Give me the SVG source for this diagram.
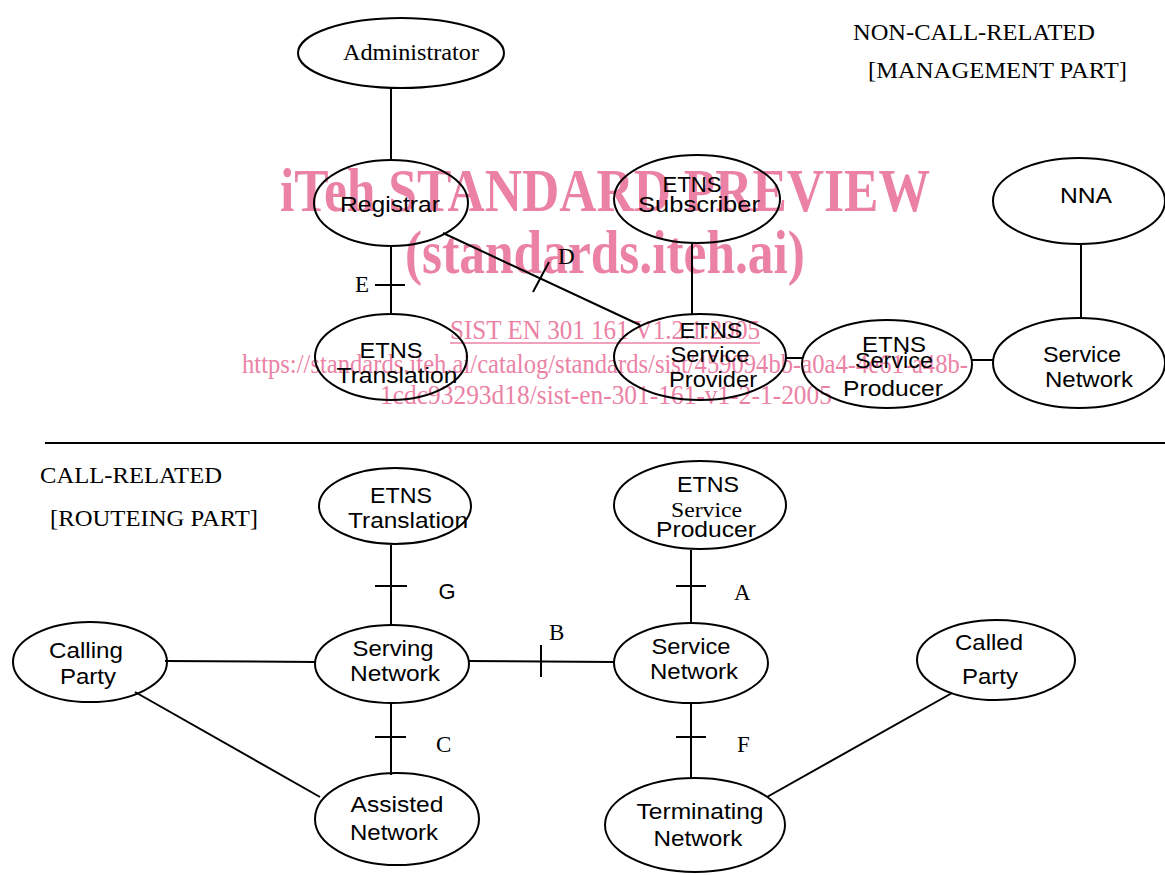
<svg xmlns="http://www.w3.org/2000/svg" width="1165" height="875" viewBox="0 0 1165 875">
<style>
  .node ellipse { fill: none; stroke: #000; stroke-width: 2; }
  .lbl { font-family: "Liberation Sans", Arial, sans-serif; font-size: 22px; fill: #000; text-anchor: middle; }
  .ser { font-family: "Liberation Serif", "Times New Roman", serif; font-size: 23px; fill: #000; }
  .conn line { stroke: #000; stroke-width: 2; }
  .wm { font-family: "Liberation Serif", "Times New Roman", serif; fill: #eb82a6; }
  .wmb { font-weight: bold; font-size: 62px; }
  .wms { font-size: 27px; }
</style>
<rect width="1165" height="875" fill="#fff"/>

<!-- watermark -->
<g id="watermark">
  <text class="wm wmb" x="280" y="211" textLength="650" lengthAdjust="spacingAndGlyphs">iTeh STANDARD PREVIEW</text>
  <text class="wm wmb" x="405" y="273" textLength="400" lengthAdjust="spacingAndGlyphs">(standards.iteh.ai)</text>
  <text class="wm wms" x="450" y="339" textLength="310" lengthAdjust="spacingAndGlyphs">SIST EN 301 161 V1.2.1:2005</text>
  <line x1="450" y1="343" x2="760" y2="343" stroke="#eb82a6" stroke-width="1.5"/>
  <text class="wm wms" x="242" y="373" textLength="726" lengthAdjust="spacingAndGlyphs">https://standards.iteh.ai/catalog/standards/sist/459094bb-a0a4-4e61-a48b-</text>
  <text class="wm wms" x="380" y="404" textLength="452" lengthAdjust="spacingAndGlyphs">1cdc93293d18/sist-en-301-161-v1-2-1-2005</text>
</g>

<!-- section titles -->
<g id="titles">
  <text class="ser" x="853" y="40" textLength="242" lengthAdjust="spacingAndGlyphs">NON-CALL-RELATED</text>
  <text class="ser" x="868" y="78" textLength="259" lengthAdjust="spacingAndGlyphs">[MANAGEMENT PART]</text>
  <text class="ser" x="40" y="483" textLength="182" lengthAdjust="spacingAndGlyphs">CALL-RELATED</text>
  <text class="ser" x="50" y="526" textLength="208" lengthAdjust="spacingAndGlyphs">[ROUTEING PART]</text>
</g>

<!-- connectors -->
<g id="connectors" class="conn">
  <line x1="45" y1="443" x2="1165" y2="443"/>
  <line x1="391" y1="88" x2="391" y2="160"/>
  <line x1="391" y1="245" x2="391" y2="315"/>
  <line x1="375" y1="285" x2="405" y2="285"/>
  <line x1="443" y1="233" x2="640" y2="325"/>
  <line x1="533" y1="292" x2="549" y2="262"/>
  <line x1="692" y1="243" x2="692" y2="315"/>
  <line x1="786" y1="358" x2="802" y2="358"/>
  <line x1="972" y1="360" x2="993" y2="360"/>
  <line x1="1081" y1="245" x2="1081" y2="318"/>
  <line x1="391" y1="545" x2="391" y2="625"/>
  <line x1="375" y1="586" x2="407" y2="586"/>
  <line x1="691" y1="550" x2="691" y2="624"/>
  <line x1="676" y1="586" x2="706" y2="586"/>
  <line x1="165" y1="661" x2="315" y2="662"/>
  <line x1="468" y1="661" x2="614" y2="662"/>
  <line x1="541" y1="645" x2="541" y2="677"/>
  <line x1="391" y1="703" x2="391" y2="775"/>
  <line x1="375" y1="737" x2="406" y2="737"/>
  <line x1="135" y1="692" x2="320" y2="797"/>
  <line x1="691" y1="703" x2="691" y2="778"/>
  <line x1="676" y1="737" x2="706" y2="737"/>
  <line x1="952" y1="693" x2="767" y2="797"/>
</g>

<!-- interface labels -->
<g id="interface-labels">
  <text class="ser" x="355" y="292">E</text>
  <text class="ser" x="558" y="264">D</text>
  <text class="ser" x="549" y="640">B</text>
  <text class="ser" x="734" y="600">A</text>
  <text class="ser" x="436" y="752">C</text>
  <text class="ser" x="737" y="752">F</text>
  <text class="lbl" x="447" y="599">G</text>
</g>

<g id="administrator" class="node">
  <ellipse cx="401" cy="53" rx="103" ry="35"/>
  <text class="ser" x="343" y="60" textLength="136" lengthAdjust="spacingAndGlyphs">Administrator</text>
</g>
<g id="registrar" class="node">
  <ellipse cx="391" cy="203" rx="77" ry="43"/>
  <text class="lbl" x="390" y="212" textLength="100" lengthAdjust="spacingAndGlyphs">Registrar</text>
</g>
<g id="etns-subscriber" class="node">
  <ellipse cx="697" cy="199" rx="83" ry="44"/>
  <text class="lbl" x="692" y="192" textLength="59" lengthAdjust="spacingAndGlyphs">ETNS</text>
  <text class="lbl" x="699" y="212" textLength="122" lengthAdjust="spacingAndGlyphs">Subscriber</text>
</g>
<g id="nna" class="node">
  <ellipse cx="1079" cy="201" rx="86" ry="43"/>
  <text class="lbl" x="1086" y="203" textLength="52" lengthAdjust="spacingAndGlyphs">NNA</text>
</g>
<g id="etns-translation-mgmt" class="node">
  <ellipse cx="391" cy="357" rx="76" ry="43"/>
  <text class="lbl" x="391" y="358" textLength="63" lengthAdjust="spacingAndGlyphs">ETNS</text>
  <text class="lbl" x="397" y="383" textLength="121" lengthAdjust="spacingAndGlyphs">Translation</text>
</g>
<g id="etns-service-provider" class="node">
  <ellipse cx="700" cy="357" rx="86" ry="43"/>
  <text class="lbl" x="711" y="338" textLength="63" lengthAdjust="spacingAndGlyphs">ETNS</text>
  <text class="lbl" x="710" y="362" textLength="79" lengthAdjust="spacingAndGlyphs">Service</text>
  <text class="lbl" x="713" y="387" textLength="88" lengthAdjust="spacingAndGlyphs">Provider</text>
</g>
<g id="etns-service-producer-mgmt" class="node">
  <ellipse cx="887" cy="364" rx="85" ry="44"/>
  <text class="lbl" x="894" y="352" textLength="64" lengthAdjust="spacingAndGlyphs">ETNS</text>
  <text class="lbl" x="894" y="368" textLength="78" lengthAdjust="spacingAndGlyphs">Service</text>
  <text class="lbl" x="893" y="396" textLength="100" lengthAdjust="spacingAndGlyphs">Producer</text>
</g>
<g id="service-network-mgmt" class="node">
  <ellipse cx="1079" cy="363" rx="86" ry="45"/>
  <text class="lbl" x="1082" y="362" textLength="78" lengthAdjust="spacingAndGlyphs">Service</text>
  <text class="lbl" x="1089" y="387" textLength="88" lengthAdjust="spacingAndGlyphs">Network</text>
</g>

<g id="etns-translation-call" class="node">
  <ellipse cx="395" cy="506" rx="76" ry="38"/>
  <text class="lbl" x="401" y="503" textLength="62" lengthAdjust="spacingAndGlyphs">ETNS</text>
  <text class="lbl" x="408" y="528" textLength="120" lengthAdjust="spacingAndGlyphs">Translation</text>
</g>
<g id="etns-service-producer-call" class="node">
  <ellipse cx="700" cy="505" rx="86" ry="44"/>
  <text class="lbl" x="708" y="492" textLength="62" lengthAdjust="spacingAndGlyphs">ETNS</text>
  <text class="ser" x="671" y="517" style="font-size:20px" textLength="71" lengthAdjust="spacingAndGlyphs">Service</text>
  <text class="lbl" x="706" y="537" textLength="100" lengthAdjust="spacingAndGlyphs">Producer</text>
</g>
<g id="calling-party" class="node">
  <ellipse cx="90" cy="662" rx="77" ry="40"/>
  <text class="lbl" x="86" y="658" textLength="74" lengthAdjust="spacingAndGlyphs">Calling</text>
  <text class="lbl" x="88" y="684" textLength="56" lengthAdjust="spacingAndGlyphs">Party</text>
</g>
<g id="serving-network" class="node">
  <ellipse cx="392" cy="664" rx="77" ry="39"/>
  <text class="lbl" x="393" y="656" textLength="81" lengthAdjust="spacingAndGlyphs">Serving</text>
  <text class="lbl" x="395" y="681" textLength="90" lengthAdjust="spacingAndGlyphs">Network</text>
</g>
<g id="service-network-call" class="node">
  <ellipse cx="691" cy="663" rx="77" ry="40"/>
  <text class="lbl" x="691" y="654" textLength="79" lengthAdjust="spacingAndGlyphs">Service</text>
  <text class="lbl" x="694" y="679" textLength="88" lengthAdjust="spacingAndGlyphs">Network</text>
</g>
<g id="called-party" class="node">
  <ellipse cx="996" cy="660" rx="79" ry="40"/>
  <text class="lbl" x="989" y="650" textLength="68" lengthAdjust="spacingAndGlyphs">Called</text>
  <text class="lbl" x="990" y="684" textLength="56" lengthAdjust="spacingAndGlyphs">Party</text>
</g>
<g id="assisted-network" class="node">
  <ellipse cx="397" cy="819" rx="82" ry="46"/>
  <text class="lbl" x="397" y="812" textLength="93" lengthAdjust="spacingAndGlyphs">Assisted</text>
  <text class="lbl" x="394" y="840" textLength="88" lengthAdjust="spacingAndGlyphs">Network</text>
</g>
<g id="terminating-network" class="node">
  <ellipse cx="695" cy="825" rx="90" ry="47"/>
  <text class="lbl" x="700" y="819" textLength="127" lengthAdjust="spacingAndGlyphs">Terminating</text>
  <text class="lbl" x="698" y="846" textLength="89" lengthAdjust="spacingAndGlyphs">Network</text>
</g>
</svg>
